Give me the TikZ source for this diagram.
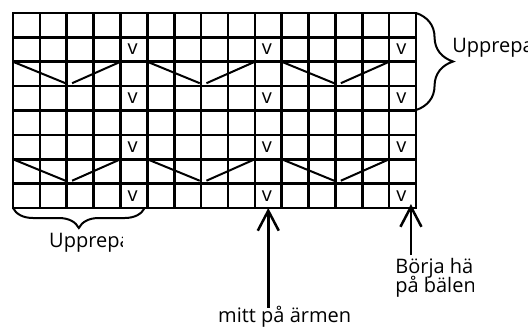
\documentclass[tikz,border=0pt]{standalone}
\usepackage{fontspec}
\setmainfont{Open Sans}
\usetikzlibrary{arrows.meta,decorations.pathreplacing}

\begin{document}
\begin{tikzpicture}[x=26.87pt,y=-24.375pt,>={Straight Barb[length=20pt,width=21pt]},
   gridline/.style={line width=2.6pt,line cap=rect},
   zig/.style={line width=2pt},
   pil/.style={->,line width=2.5pt},
   klammer/.style={decorate,decoration={brace,amplitude=#1},line width=2pt},
   maska/.style={font=\fontsize{20}{20}\selectfont,inner sep=0pt},
   etikett/.style={font=\fontsize{20}{20}\selectfont,inner sep=0pt,anchor=base west}]
   \useasboundingbox (-0.4838,-0.5333) rectangle (19.166,12.882);

   % rutnät
   \foreach \i in {0,...,15} \draw[gridline] (\i,0) -- (\i,8);
   \foreach \j in {0,...,8} \draw[gridline] (0,\j) -- (15,\j);

   % minskningar
   \foreach \r in {2,6}
     \foreach \p in {0,5,10} {
       \draw[zig] (\p,\r) -- (\p+1.95,\r+0.88);
       \draw[zig] (\p+2.2,\r+0.88) -- (\p+4,\r);
     }

   % maskor
   \foreach \c in {4,9,14}
     \foreach \r in {1,3,5,7}
       \node[maska] (v-\c-\r) at (\c+0.45,\r+0.5) {v};

   % klamrar
   \draw[klammer=37pt] (15,0) -- (15,3.98);
   \draw[klammer=20pt] (4.9,8) -- (0,8);
   \node[etikett] (upprepa-h) at (16.34,1.64) {Upprepa};
   \begin{scope}
     \clip (0,8.6) rectangle (4.06,11);
     \node[etikett] (upprepa-n) at (1.34,9.64) {Upprepa};
   \end{scope}

   % pilar
   \coordinate (mitt-spets) at (9.5,8);
   \coordinate (mitt-fot) at (9.5,12.1);
   \node[etikett] (mitt) at (7.63,12.68) {mitt på ärmen};
   \draw[pil] (mitt-fot) -- (mitt-spets);

   \coordinate (start-spets) at (14.81,7.84);
   \coordinate (start-fot) at (14.81,9.93);
   \begin{scope}
     \clip (14,10) rectangle (17.15,12);
     \node[etikett] (borja) at (14.22,10.67) {Börja här};
     \node[etikett] (balen) at (14.22,11.45) {på bälen};
   \end{scope}
   \draw[pil] (start-fot) -- (start-spets);
\end{tikzpicture}
\end{document}
